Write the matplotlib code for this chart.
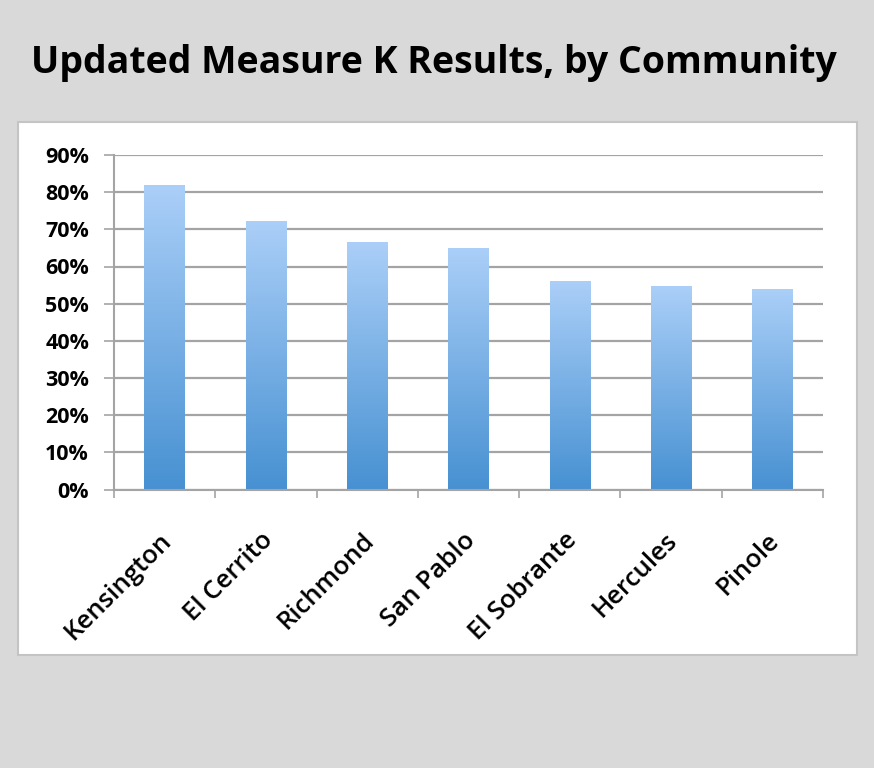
import numpy as np
import matplotlib
matplotlib.use("Agg")
import matplotlib.pyplot as plt
from matplotlib.patches import Rectangle
from matplotlib.colors import LinearSegmentedColormap
import matplotlib.transforms as mtransforms

communities = ["Kensington", "El Cerrito", "Richmond", "San Pablo", "El Sobrante", "Hercules", "Pinole"]
yes_share = [0.819, 0.722, 0.665, 0.651, 0.561, 0.548, 0.539]
y_ticks = [0.0, 0.1, 0.2, 0.3, 0.4, 0.5, 0.6, 0.7, 0.8, 0.9]
y_tick_labels = ["0%", "10%", "20%", "30%", "40%", "50%", "60%", "70%", "80%", "90%"]
title = "Updated Measure K Results, by Community"

W, H = 874, 768
fig = plt.figure(figsize=(W / 100, H / 100), dpi=100, facecolor="#d9d9d9")

# white chart panel
panel = Rectangle((18 / W, 1 - 655 / H), (857 - 18) / W, (655 - 122) / H,
                  transform=fig.transFigure, facecolor="white", edgecolor="#c4c4c4",
                  linewidth=1.5, zorder=-5)
fig.patches.append(panel)

fig.text(0.497, 1 - 73 / H, title, ha="center", va="baseline",
         fontsize=27, fontweight="bold", family=["Open Sans", "DejaVu Sans"], color="black")

ax = fig.add_axes([114 / W, 1 - 489.5 / H, (823 - 114) / W, (489.5 - 155) / H])
ax.set_zorder(2)
ax.set_facecolor("none")
n = len(communities)
x = np.arange(n)

grid_c = "#a4a4a4"
ax.set_yticks(y_ticks)
ax.set_yticklabels(y_tick_labels, fontsize=15.5, fontweight="bold", family=["Open Sans", "DejaVu Sans"])
ax.yaxis.grid(True, color=grid_c, linewidth=1.6, zorder=0)
ax.set_axisbelow(True)
ax.tick_params(axis="y", length=7, width=1.2, color=grid_c, pad=11, direction="out")

for s in ["top", "right"]:
    ax.spines[s].set_visible(False)
for s in ["left", "bottom"]:
    ax.spines[s].set_color(grid_c)
    ax.spines[s].set_linewidth(1.5)

ax.set_xticks(x)
labels = ax.set_xticklabels(communities, fontsize=18.5, fontweight="semibold",
                            family=["Open Sans", "DejaVu Sans"],
                            rotation=45, ha="right", va="center", rotation_mode="anchor")
ax.tick_params(axis="x", length=0, pad=34)
off = mtransforms.ScaledTranslation(3 / 100, 0, fig.dpi_scale_trans)
for lab in labels:
    lab.set_transform(lab.get_transform() + off)
ax.set_xticks(np.arange(n + 1) - 0.5, minor=True)
ax.tick_params(axis="x", which="minor", length=6, width=1.2, color=grid_c, direction="out")

cmap = LinearSegmentedColormap.from_list("bar", ["#4791d2", "#abcff8"])
grad = np.linspace(0, 1, 256).reshape(-1, 1)
bars = ax.bar(x, yes_share, width=0.4, color="none", edgecolor="none", zorder=2)
for b in bars:
    x0, y0 = b.get_x(), b.get_y()
    w, h = b.get_width(), b.get_height()
    im = ax.imshow(grad, cmap=cmap, origin="lower", aspect="auto",
                   extent=[x0, x0 + w, y0, y0 + h], zorder=2)
    im.set_clip_path(b)
ax.set_xlim(-0.5, n - 0.5)
ax.set_ylim(0, 0.9)

fig.savefig("out.png", dpi=100, facecolor=fig.get_facecolor())
